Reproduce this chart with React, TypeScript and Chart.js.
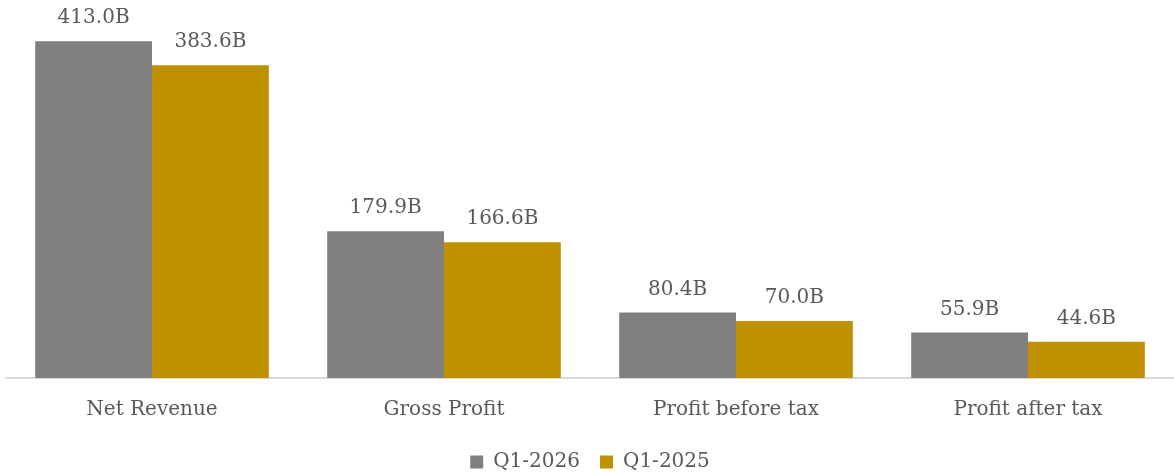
import React, { useEffect, useRef } from "react";
import { Chart, registerables } from "chart.js";

Chart.register(...registerables);

const categories = ["Net Revenue", "Gross Profit", "Profit before tax", "Profit after tax"];
const seriesNames = ["Q1-2026", "Q1-2025"];
const q12026 = [413.0, 179.9, 80.4, 55.9];
const q12025 = [383.6, 166.6, 70.0, 44.6];
const colors = ["#808080", "#BF9000"];
const yMax = 450;

const FONT = "'DejaVu Serif', 'Liberation Serif', serif";
const TEXT = "#595959";
const CANVAS_H = 482;

const labelPlugin = {
  id: "barLabels",
  afterDatasetsDraw(chart: any) {
    const ctx = chart.ctx;
    ctx.save();
    ctx.font = `20px ${FONT}`;
    ctx.fillStyle = TEXT;
    ctx.textAlign = "center";
    ctx.textBaseline = "middle";
    chart.data.datasets.forEach((ds: any, di: number) => {
      const meta = chart.getDatasetMeta(di);
      meta.data.forEach((bar: any, i: number) => {
        const v = ds.data[i];
        ctx.fillText(v.toFixed(1) + "B", bar.x, bar.y - 23);
      });
    });
    ctx.restore();
  },
};

export default function App() {
  const ref = useRef<HTMLCanvasElement | null>(null);
  useEffect(() => {
    document.body.style.margin = "0";
    if (!ref.current) return;
    const chart = new Chart(ref.current, {
      type: "bar",
      data: {
        labels: categories,
        datasets: [
          { label: seriesNames[0], data: q12026, backgroundColor: colors[0] },
          { label: seriesNames[1], data: q12025, backgroundColor: colors[1] },
        ],
      },
      options: {
        animation: false,
        responsive: false,
        maintainAspectRatio: false,
        layout: { padding: { top: 11, left: 6, right: 0, bottom: 0 } },
        datasets: {
          bar: { categoryPercentage: 0.8, barPercentage: 1.0 },
        } as any,
        scales: {
          x: {
            grid: { display: false },
            border: { display: true, color: "#D9D9D9", width: 2 },
            ticks: { color: TEXT, font: { family: FONT, size: 20 }, padding: 12 },
            afterFit: (scale: any) => {
              scale.height = 54;
            },
          },
          y: {
            display: false,
            min: 0,
            max: yMax,
          },
        },
        plugins: {
          legend: {
            position: "bottom",
            labels: {
              color: TEXT,
              font: { family: FONT, size: 20 },
              boxWidth: 13,
              boxHeight: 13,
              padding: 20,
            },
          },
          tooltip: { enabled: false },
        },
      },
      plugins: [labelPlugin],
    });
    return () => chart.destroy();
  }, []);
  return (
    <div style={{ width: 1174, height: 473, overflow: "hidden" }}>
      <canvas ref={ref} width={1174} height={CANVAS_H} style={{ width: 1174, height: CANVAS_H, display: "block" }} />
    </div>
  );
}
